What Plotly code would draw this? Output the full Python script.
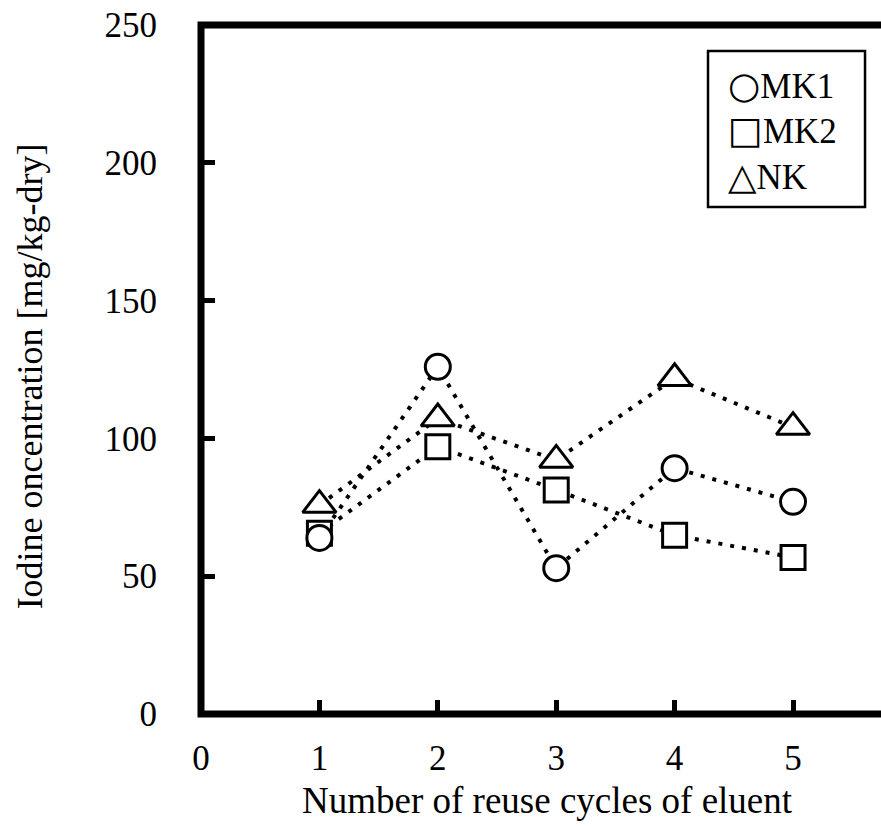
import plotly.graph_objects as go

# Iodine concentration per reuse cycle of the eluent
cycles = [1, 2, 3, 4, 5]
mk1 = [63.9, 126.0, 52.9, 89.2, 77.0]
mk2 = [65.6, 97.0, 81.3, 64.9, 56.8]
nk = [75.8, 107.2, 92.2, 121.8, 104.1]

x_ticks = [0, 1, 2, 3, 4, 5]
y_ticks = [0, 50, 100, 150, 200, 250]

SERIF = "Liberation Serif, Times New Roman, serif"
BLACK = "#000000"

series = [
    ("MK1", mk1, "circle", 25, "○"),
    ("MK2", mk2, "square", 24, "□"),
    ("NK", nk, "triangle-up", 29, "△"),
]

fig = go.Figure()

# dotted connecting lines go underneath all markers
for name, vals, _, _, _ in series:
    fig.add_trace(go.Scatter(
        x=cycles, y=vals, mode="lines", name=name, showlegend=False,
        line=dict(color=BLACK, width=4, dash="4px,8px"),
        hoverinfo="skip",
    ))

# white-filled markers, circles drawn last
for name, vals, sym, size, _ in [series[1], series[2], series[0]]:
    fig.add_trace(go.Scatter(
        x=cycles, y=vals, mode="markers", name=name, showlegend=False,
        marker=dict(symbol=sym, size=size, color="white",
                    line=dict(color=BLACK, width=3)),
    ))

axis_common = dict(
    showgrid=False, zeroline=False, showline=False,
    ticks="inside", ticklen=14, tickwidth=5, tickcolor=BLACK,
    tickfont=dict(family=SERIF, size=35, color=BLACK),
)

fig.update_xaxes(range=[0, 5.743], tickvals=x_ticks,
                 ticktext=[str(v) for v in x_ticks],
                 ticklabelstandoff=20, **axis_common)
fig.update_yaxes(range=[0, 250], tickvals=y_ticks,
                 ticktext=[str(v) for v in y_ticks],
                 ticklabelstandoff=43, **axis_common)

# heavy frame: left, bottom and top edges
fig.add_shape(type="path", xref="paper", yref="paper",
              path="M 1.01,1 L 0,1 L 0,0 L 1.01,0",
              line=dict(color=BLACK, width=7), fillcolor="rgba(0,0,0,0)")

# legend box with one row per series
fig.add_shape(type="rect", xref="paper", yref="paper",
              x0=0.7456, x1=0.9765, y0=0.7358, y1=0.9623,
              line=dict(color=BLACK, width=2.5), fillcolor="white")

glyph = '<span style="font-family:DejaVu Sans;font-size:37px">{}</span>'
row_y = [0.9115, 0.8462, 0.7808]
for (name, _, _, _, g), ry in zip(series, row_y):
    fig.add_annotation(xref="paper", yref="paper", x=0.772, y=ry,
                       xanchor="left", yanchor="middle", align="left",
                       showarrow=False, text=glyph.format(g) + name,
                       font=dict(family=SERIF, size=35, color=BLACK))

# axis titles
fig.add_annotation(xref="paper", yref="paper", x=0.509, y=-0.125,
                   xanchor="center", yanchor="middle", showarrow=False,
                   text="Number of reuse cycles of eluent",
                   font=dict(family=SERIF, size=37, color=BLACK))
fig.add_annotation(xref="paper", yref="paper", x=-0.2515, y=0.49,
                   xanchor="center", yanchor="middle", showarrow=False,
                   textangle=-90,
                   text="Iodine oncentration [mg/kg-dry]",
                   font=dict(family=SERIF, size=36, color=BLACK))

fig.update_layout(
    width=881, height=828,
    margin=dict(l=201, r=0, t=25, b=114),
    paper_bgcolor="white", plot_bgcolor="white",
    showlegend=False,
)

fig.write_html("out.html")
